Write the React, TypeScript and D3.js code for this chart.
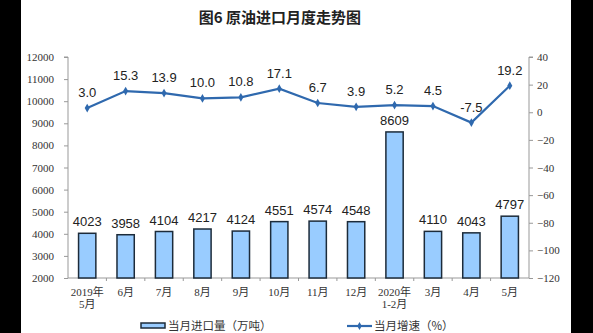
import { useEffect, useRef } from 'react'
import * as d3 from 'd3'

const categories = ['2019年\n5月', '6月', '7月', '8月', '9月', '10月', '11月', '12月', '2020年\n1-2月', '3月', '4月', '5月']
const imports = [4023, 3958, 4104, 4217, 4124, 4551, 4574, 4548, 8609, 4110, 4043, 4797]
const growth = [3.0, 15.3, 13.9, 10.0, 10.8, 17.1, 6.7, 3.9, 5.2, 4.5, -7.5, 19.2]
const leftTicks = [2000, 3000, 4000, 5000, 6000, 7000, 8000, 9000, 10000, 11000, 12000]
const rightTicks = [-120, -100, -80, -60, -40, -20, 0, 20, 40]

const W = 593
const H = 333
const serif = '"Liberation Serif", "Noto Sans CJK SC", serif'
const sans = '"Liberation Sans", Arial, "Noto Sans CJK SC", sans-serif'
const lineColor = '#2F69AE'

export default function App() {
  const svgRef = useRef<SVGSVGElement>(null)

  useEffect(() => {
    if (!svgRef.current) return
    const svg = d3.select(svgRef.current)
    svg.selectAll('*').remove()

    const left = 68, right = 529, top = 57, bottom = 278

    // black side bands of the scan
    svg.append('rect').attr('x', 0).attr('y', 0).attr('width', W).attr('height', H).attr('fill', '#000')
    svg.append('rect').attr('x', 21).attr('y', 0).attr('width', 550).attr('height', H).attr('fill', '#fff')

    svg.append('text')
      .attr('x', 280).attr('y', 23)
      .attr('text-anchor', 'middle')
      .attr('font-family', '"Noto Sans CJK SC", sans-serif')
      .attr('font-weight', 'bold')
      .attr('font-size', 15)
      .attr('fill', '#222')
      .text('图6  原油进口月度走势图')

    const x = d3.scaleBand<string>().domain(categories).range([left, right]).padding(0)
    const yL = d3.scaleLinear().domain([2000, 12000]).range([bottom, top])
    const yR = d3.scaleLinear().domain([-120, 40]).range([bottom, top])
    const barW = x.bandwidth() * 0.45

    // left axis
    const axisL = svg.append('g').attr('transform', `translate(${left},0)`)
      .call(d3.axisLeft(yL).tickValues(leftTicks).tickSize(4).tickFormat(d3.format('d')))
    axisL.select('.domain').attr('stroke', '#999').attr('d', `M-4,${top}H0V${bottom}`)
    axisL.selectAll('.tick line').attr('stroke', '#999')
    axisL.selectAll('.tick text').attr('font-family', serif).attr('font-size', 11).attr('fill', '#333').attr('x', -14)

    // right axis
    const axisR = svg.append('g').attr('transform', `translate(${right},0)`)
      .call(d3.axisRight(yR).tickValues(rightTicks).tickSize(4))
    axisR.select('.domain').attr('stroke', '#999').attr('d', `M4,${top}H0V${bottom}`)
    axisR.selectAll('.tick line').attr('stroke', '#999')
    axisR.selectAll('.tick text').attr('font-family', serif).attr('font-size', 11).attr('fill', '#333').attr('x', 8)

    // bottom axis
    svg.append('line').attr('x1', left).attr('x2', right).attr('y1', bottom).attr('y2', bottom).attr('stroke', '#999')
    categories.forEach((c, i) => {
      if (i > 0) {
        const bx = x(c)!
        svg.append('line').attr('x1', bx).attr('x2', bx).attr('y1', bottom).attr('y2', bottom + 3).attr('stroke', '#999')
      }
      const lines = c.split('\n')
      lines.forEach((ln, k) => {
        svg.append('text')
          .attr('x', x(c)! + x.bandwidth() / 2)
          .attr('y', 296 + k * 12)
          .attr('text-anchor', 'middle')
          .attr('font-family', serif)
          .attr('font-size', 11)
          .attr('fill', '#333')
          .text(ln)
      })
    })

    // bars
    svg.selectAll('.bar').data(imports).enter().append('rect')
      .attr('x', (_d, i) => x(categories[i])! + (x.bandwidth() - barW) / 2)
      .attr('y', d => yL(d))
      .attr('width', barW)
      .attr('height', d => bottom - yL(d))
      .attr('fill', '#99CCFF')
      .attr('stroke', '#1C2B3A')
      .attr('stroke-width', 1.5)

    svg.selectAll('.barlabel').data(imports).enter().append('text')
      .attr('x', (_d, i) => x(categories[i])! + x.bandwidth() / 2)
      .attr('y', d => yL(d) - 7)
      .attr('text-anchor', 'middle')
      .attr('font-family', sans)
      .attr('font-size', 13)
      .attr('fill', '#222')
      .text(d => d)

    // line
    const cx = (i: number) => x(categories[i])! + x.bandwidth() / 2
    const line = d3.line<number>().x((_d, i) => cx(i)).y(d => yR(d))
    svg.append('path').datum(growth)
      .attr('d', line)
      .attr('fill', 'none')
      .attr('stroke', lineColor)
      .attr('stroke-width', 2.2)

    svg.selectAll('.pt').data(growth).enter().append('path')
      .attr('d', d3.symbol(d3.symbolDiamond, 22)())
      .attr('transform', (d, i) => `translate(${cx(i)},${yR(d)})`)
      .attr('fill', lineColor)

    svg.selectAll('.ptlabel').data(growth).enter().append('text')
      .attr('x', (_d, i) => cx(i))
      .attr('y', d => yR(d) - 11)
      .attr('text-anchor', 'middle')
      .attr('font-family', sans)
      .attr('font-size', 13)
      .attr('fill', '#222')
      .text(d => d.toFixed(1))

    // legend
    svg.append('rect').attr('x', 141).attr('y', 323).attr('width', 24).attr('height', 5)
      .attr('fill', '#99CCFF').attr('stroke', '#1C2B3A').attr('stroke-width', 1.5)
    svg.append('text').attr('x', 168).attr('y', 330)
      .attr('font-family', '"Noto Sans CJK SC", sans-serif').attr('font-size', 11.5).attr('fill', '#333')
      .text('当月进口量（万吨）')
    svg.append('line').attr('x1', 347).attr('x2', 372).attr('y1', 326).attr('y2', 326)
      .attr('stroke', lineColor).attr('stroke-width', 2.2)
    svg.append('path').attr('d', d3.symbol(d3.symbolDiamond, 18)())
      .attr('transform', 'translate(359.5,326)').attr('fill', lineColor)
    svg.append('text').attr('x', 374).attr('y', 330)
      .attr('font-family', '"Noto Sans CJK SC", sans-serif').attr('font-size', 11.5).attr('fill', '#333')
      .text('当月增速（%）')
  }, [])

  return (
    <div style={{ position: 'fixed', left: 0, top: 0 }}>
      <svg ref={svgRef} width={W} height={H} style={{ display: 'block' }} />
    </div>
  )
}
